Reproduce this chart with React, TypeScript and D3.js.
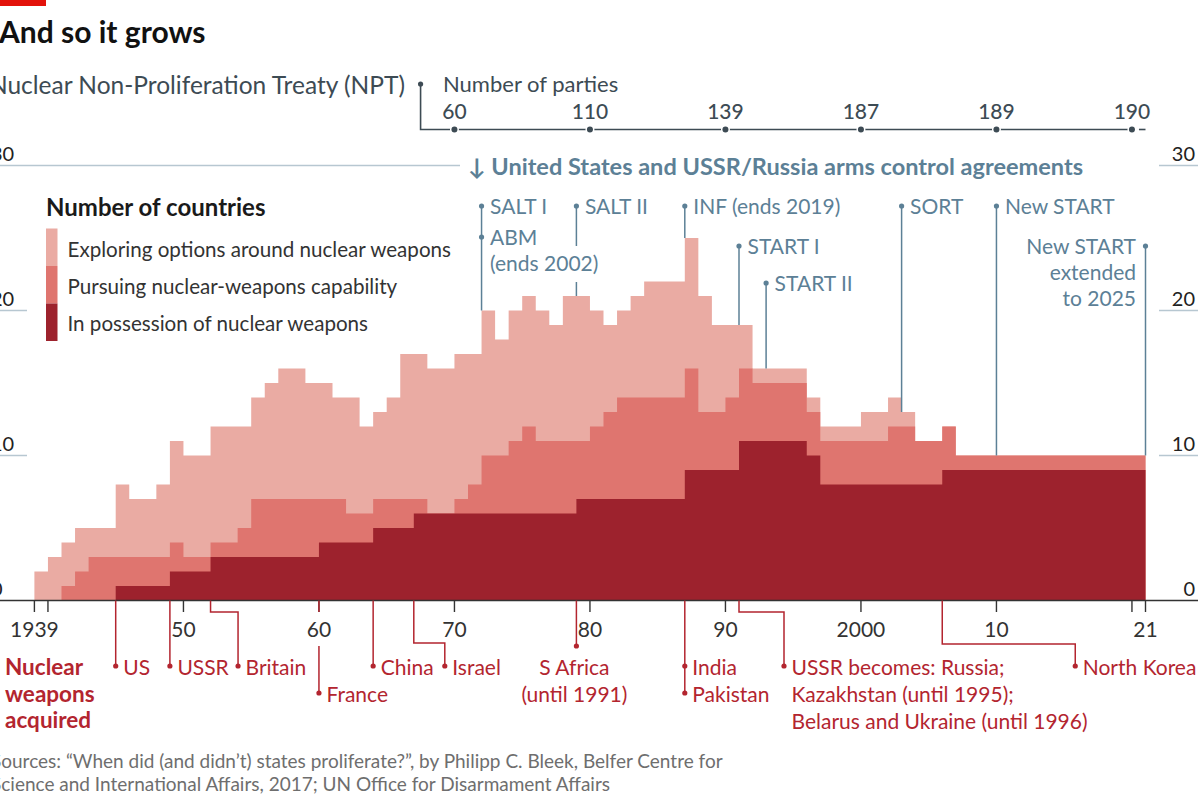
import React from 'react';
import * as d3 from 'd3';

// ---------- DATA ----------
const years = [
  1939, 1940, 1941, 1942, 1943, 1944, 1945, 1946, 1947, 1948,
  1949, 1950, 1951, 1952, 1953, 1954, 1955, 1956, 1957, 1958,
  1959, 1960, 1961, 1962, 1963, 1964, 1965, 1966, 1967, 1968,
  1969, 1970, 1971, 1972, 1973, 1974, 1975, 1976, 1977, 1978,
  1979, 1980, 1981, 1982, 1983, 1984, 1985, 1986, 1987, 1988,
  1989, 1990, 1991, 1992, 1993, 1994, 1995, 1996, 1997, 1998,
  1999, 2000, 2001, 2002, 2003, 2004, 2005, 2006, 2007, 2008,
  2009, 2010, 2011, 2012, 2013, 2014, 2015, 2016, 2017, 2018,
  2019, 2020,
];
// In possession of nuclear weapons
const possession = [
  0, 0, 0, 0, 0, 0, 1, 1, 1, 1,
  2, 2, 2, 3, 3, 3, 3, 3, 3, 3,
  3, 4, 4, 4, 4, 5, 5, 5, 6, 6,
  6, 6, 6, 6, 6, 6, 6, 6, 6, 6,
  7, 7, 7, 7, 7, 7, 7, 7, 9, 9,
  9, 9, 11, 11, 11, 11, 11, 10, 8, 8,
  8, 8, 8, 8, 8, 8, 8, 9, 9, 9,
  9, 9, 9, 9, 9, 9, 9, 9, 9, 9,
  9, 9,
];
// Pursuing nuclear-weapons capability
const pursuing = [
  0, 0, 1, 2, 3, 3, 2, 2, 2, 2,
  2, 1, 1, 1, 1, 2, 4, 4, 4, 4,
  4, 3, 3, 2, 2, 2, 2, 2, 1, 0,
  0, 1, 2, 4, 4, 5, 6, 5, 5, 5,
  4, 5, 6, 7, 7, 7, 7, 7, 7, 4,
  4, 5, 5, 4, 4, 4, 4, 3, 3, 3,
  3, 3, 3, 4, 4, 3, 3, 3, 1, 1,
  1, 1, 1, 1, 1, 1, 1, 1, 1, 1,
  1, 1,
];
// Exploring options around nuclear weapons
const exploring = [
  2, 3, 3, 3, 2, 2, 5, 4, 4, 5,
  7, 7, 7, 8, 8, 7, 7, 8, 9, 9,
  8, 8, 7, 8, 6, 6, 7, 10, 10, 10,
  10, 10, 9, 10, 8, 9, 9, 9, 8, 10,
  10, 8, 6, 6, 7, 8, 8, 8, 9, 8,
  6, 5, 3, 1, 1, 1, 1, 1, 1, 1,
  1, 2, 2, 2, 1, 0, 0, 0, 0, 0,
  0, 0, 0, 0, 0, 0, 0, 0, 0, 0,
  0, 0,
];

const seriesKeys = ['possession', 'pursuing', 'exploring'];
const seriesLabels = [
  'In possession of nuclear weapons',
  'Pursuing nuclear-weapons capability',
  'Exploring options around nuclear weapons',
];

const nptYears = [1970, 1980, 1990, 2000, 2010, 2020];
const nptParties = [60, 110, 139, 187, 189, 190];

const xTickYears = [1939, 1940, 1950, 1960, 1970, 1980, 1990, 2000, 2010, 2020, 2021];
const xTickLabels = ['1939', '', '50', '60', '70', '80', '90', '2000', '10', '', '21'];
const yTicks = [0, 10, 20, 30];

const agreementYears = [1972, 1972, 1979, 1987, 1991, 1993, 2003, 2010, 2021];
const agreementLabels = [
  ['SALT I'],
  ['ABM', '(ends 2002)'],
  ['SALT II'],
  ['INF (ends 2019)'],
  ['START I'],
  ['START II'],
  ['SORT'],
  ['New START'],
  ['New START', 'extended', 'to 2025'],
];

const acquiredYears = [1945, 1949, 1952, 1960, 1964, 1967, 1979, 1987, 1991, 2006];
const acquiredLabels = [
  ['US'],
  ['USSR'],
  ['Britain'],
  ['France'],
  ['China'],
  ['Israel'],
  ['S Africa', '(until 1991)'],
  ['India', 'Pakistan'],
  ['USSR becomes: Russia;', 'Kazakhstan (until 1995);', 'Belarus and Ukraine (until 1996)'],
  ['North Korea'],
];

// ---------- LAYOUT / STYLE ----------
const W = 1198;
const H = 800;
const FONT = "Lato, 'Noto Sans', sans-serif";
const C_LIGHT = '#eaaba3';
const C_MED = '#df756f';
const C_DARK = '#9d222d';
const C_BLUE = '#5c8096';
const C_SLATE = '#3d4b54';
const C_RED = '#b3252f';
const C_GRID = '#b7c7d1';
const C_AXIS = '#333333';
const layerColors = [C_DARK, C_MED, C_LIGHT];

// agreement label layout: dot y, text alignment, optional gap in the stem
const agreementLayout: any[] = [
  { dotY: 206, align: 'start' },
  { dotY: 237, align: 'start', noStem: true },
  { dotY: 206, align: 'start', gap: [246, 282] },
  { dotY: 206, align: 'start' },
  { dotY: 246, align: 'start' },
  { dotY: 283, align: 'start' },
  { dotY: 206, align: 'start' },
  { dotY: 206, align: 'start' },
  { dotY: 246, align: 'end' },
];

// acquisition label layout
const acquiredLayout: any[] = [
  { end: 666, dots: [666] },
  { end: 666, dots: [666] },
  { bendY: 612, bendDx: 27.5, end: 666, dots: [666] },
  { end: 693, dots: [693], gap: [612, 646], row: 1 },
  { end: 666, dots: [666] },
  { bendY: 643, bendDx: 31, end: 666, dots: [666] },
  { end: 646, dots: [646], centered: true },
  { end: 693, dots: [666, 693] },
  { bendY: 612, bendDx: 45, end: 666, dots: [666] },
  { bendY: 644, bendDx: 133, end: 666, dots: [666] },
];

export default function App() {
  const x = d3.scaleLinear().domain([1939, 2021]).range([34.4, 1145.5]);
  const y = d3.scaleLinear().domain([0, 30]).range([600.5, 165.5]);

  const rows: any[] = years.map((yr, i) => ({
    year: yr,
    possession: possession[i],
    pursuing: pursuing[i],
    exploring: exploring[i],
  }));
  const rowsExt = [...rows, { ...rows[rows.length - 1], year: 2021 }];
  const stacked = d3.stack<any>().keys(seriesKeys)(rowsExt);
  const area = d3
    .area<any>()
    .x((d) => x(d.data.year))
    .y0(() => y(0))
    .y1((d) => y(d[1]))
    .curve(d3.curveStepAfter);

  const totals = years.map((_, i) => possession[i] + pursuing[i] + exploring[i]);
  const totalAt = (yr: number) => {
    const idx = years.indexOf(yr);
    return totals[idx >= 0 ? idx : years.length - 1];
  };

  const LH = 26;

  return (
    <svg
      width={W}
      height={H}
      viewBox={`0 0 ${W} ${H}`}
      style={{ position: 'absolute', left: 0, top: 0, background: '#fff', fontFamily: FONT }}
    >
      <rect x={0} y={0} width={W} height={H} fill="#fff" />
      <rect x={0} y={0} width={46} height={6} fill="#e3120b" />

      {/* Title & subtitle */}
      <text x={-1} y={43} fontSize={30} fontWeight="bold" fill="#111">
        And so it grows
      </text>
      <text x={405} y={94} fontSize={24.5} fill={C_SLATE} textAnchor="end">
        Nuclear Non-Proliferation Treaty (NPT)
      </text>
      <text x={443} y={92} fontSize={22} fill={C_SLATE}>
        Number of parties
      </text>

      {/* NPT line */}
      <path
        d={`M${x(1967.5)},84 V129.5 H${x(2020)}`}
        fill="none"
        stroke={C_SLATE}
        strokeWidth={1.6}
      />
      <line x1={x(2020) + 7} x2={x(2021)} y1={129.5} y2={129.5} stroke={C_SLATE} strokeWidth={1.6} />
      <circle cx={x(1967.5)} cy={84} r={2.6} fill={C_SLATE} />
      {nptYears.map((yr, i) => (
        <g key={'npt' + yr}>
          <circle cx={x(yr)} cy={129.5} r={3} fill={C_SLATE} stroke="#fff" strokeWidth={3} paintOrder="stroke" />
          <text x={x(yr)} y={119} fontSize={21} fill={C_SLATE} textAnchor="middle" fontWeight={500}>
            {nptParties[i]}
          </text>
        </g>
      ))}

      {/* gridlines */}
      {yTicks
        .filter((t) => t > 0)
        .map((t) => (
          <g key={'g' + t}>
            <line x1={0} x2={t === 30 ? 460 : 27} y1={y(t)} y2={y(t)} stroke={C_GRID} strokeWidth={1.5} />
            <line x1={1159} x2={W} y1={y(t)} y2={y(t)} stroke={C_GRID} strokeWidth={1.5} />
          </g>
        ))}
      {yTicks.map((t) => (
        <g key={'yl' + t}>
          <text x={-9} y={y(t) - 5} fontSize={20} fill="#222">
            {t}
          </text>
          <text x={1195} y={y(t) - 5} fontSize={20} fill="#222" textAnchor="end">
            {t}
          </text>
        </g>
      ))}

      <text x={468} y={175} fontSize={23} fill={C_BLUE} fontWeight="bold" textLength={615} lengthAdjust="spacingAndGlyphs">
        ↓ United States and USSR/Russia arms control agreements
      </text>

      {/* stacked step areas (drawn back to front) */}
      {[2, 1, 0].map((k) => (
        <path key={'a' + k} d={area(stacked[k] as any) || ''} fill={layerColors[k]} />
      ))}

      {/* legend */}
      <text x={46} y={216} fontSize={24} fontWeight="bold" fill="#1a1a1a">
        Number of countries
      </text>
      {[2, 1, 0].map((k, j) => (
        <g key={'lg' + k}>
          <rect x={46} y={228.5 + j * 37.5} width={11.5} height={37.5} fill={layerColors[k]} />
          <text x={67.5} y={256.5 + j * 37} fontSize={20.6} fill="#333">
            {seriesLabels[k]}
          </text>
        </g>
      ))}

      {/* arms control agreements */}
      {agreementYears.map((yr, i) => {
        const L = agreementLayout[i];
        const cx = x(yr);
        const bottom = y(totalAt(yr));
        const tx = L.align === 'end' ? cx - 9.5 : cx + 8.5;
        return (
          <g key={'ag' + i}>
            {!L.noStem &&
              (L.gap ? (
                <>
                  <line x1={cx} x2={cx} y1={L.dotY} y2={L.gap[0]} stroke={C_BLUE} strokeWidth={1.5} />
                  <line x1={cx} x2={cx} y1={L.gap[1]} y2={bottom} stroke={C_BLUE} strokeWidth={1.5} />
                </>
              ) : (
                <line x1={cx} x2={cx} y1={L.dotY} y2={bottom} stroke={C_BLUE} strokeWidth={1.5} />
              ))}
            <circle cx={cx} cy={L.dotY} r={2.6} fill={C_BLUE} />
            {agreementLabels[i].map((s, j) => (
              <text
                key={j}
                x={tx}
                y={L.dotY + 8 + j * LH}
                fontSize={21}
                fill={C_BLUE}
                textAnchor={L.align}
              >
                {s}
              </text>
            ))}
          </g>
        );
      })}

      {/* x axis */}
      <line x1={0} x2={W} y1={y(0)} y2={y(0)} stroke={C_AXIS} strokeWidth={1.6} />
      {xTickYears.map((yr, i) => (
        <g key={'xt' + yr}>
          <line x1={x(yr)} x2={x(yr)} y1={y(0)} y2={612} stroke={C_AXIS} strokeWidth={1.4} />
          {xTickLabels[i] && (
            <text x={x(yr)} y={637} fontSize={21} fill="#333" textAnchor="middle">
              {xTickLabels[i]}
            </text>
          )}
        </g>
      ))}

      {/* nuclear weapons acquired */}
      {['Nuclear', 'weapons', 'acquired'].map((s, j) => (
        <text key={'nw' + j} x={5} y={675 + j * 26.5} fontSize={22.5} fontWeight="bold" fill={C_RED}>
          {s}
        </text>
      ))}
      {acquiredYears.map((yr, i) => {
        const L = acquiredLayout[i];
        const x0 = x(yr);
        const xe = L.bendDx ? x0 + L.bendDx : x0;
        let d: string;
        if (L.bendY) d = `M${x0},${y(0)} V${L.bendY} H${xe} V${L.end}`;
        else if (L.gap) d = `M${x0},${y(0)} V${L.gap[0]} M${x0},${L.gap[1]} V${L.end}`;
        else d = `M${x0},${y(0)} V${L.end}`;
        const labels = acquiredLabels[i];
        return (
          <g key={'aq' + i}>
            <path d={d} fill="none" stroke={C_RED} strokeWidth={1.5} />
            {L.dots.map((dy: number, j: number) => (
              <circle key={j} cx={xe} cy={dy} r={2.6} fill={C_RED} />
            ))}
            {labels.map((s, j) => {
              if (L.centered) {
                return (
                  <text key={j} x={xe - 2} y={675 + j * 27} fontSize={21} fill={C_RED} textAnchor="middle">
                    {s}
                  </text>
                );
              }
              const by = (L.row ? 702 : 675) + j * 27;
              return (
                <text key={j} x={xe + 7.5} y={by} fontSize={21} fill={C_RED}>
                  {s}
                </text>
              );
            })}
          </g>
        );
      })}

      {/* sources */}
      <text x={-9} y={768} fontSize={19} fill="#6e6e6e">
        Sources: “When did (and didn’t) states proliferate?”, by Philipp C. Bleek, Belfer Centre for
      </text>
      <text x={-9} y={791} fontSize={19} fill="#6e6e6e">
        Science and International Affairs, 2017; UN Office for Disarmament Affairs
      </text>
    </svg>
  );
}
